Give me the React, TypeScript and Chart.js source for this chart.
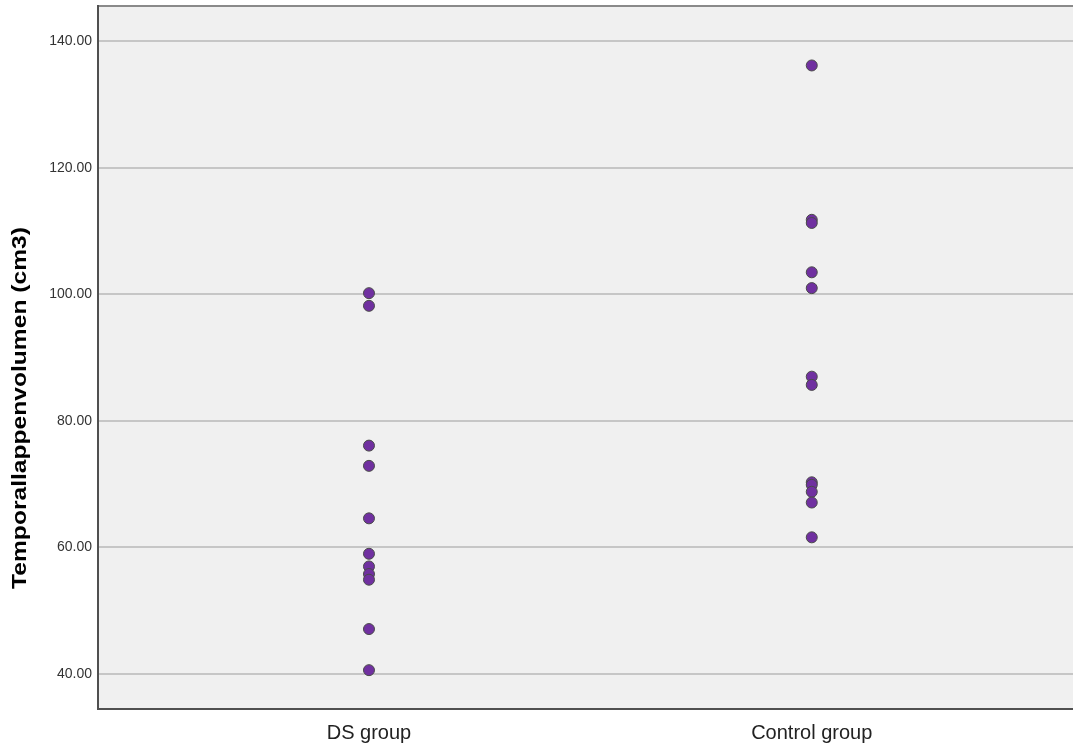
import React, { useEffect, useRef } from "react";
import { Chart, registerables } from "chart.js";

Chart.register(...registerables);

// Group names shown on the x axis; each group sits at its index position.
const groups = ["DS group", "Control group"];

// Temporal lobe volume (cm3) per subject.
const dsValues = [100.2, 98.2, 76.1, 72.9, 64.6, 59.0, 57.0, 55.8, 54.9, 47.1, 40.6];
const controlValues = [136.2, 111.8, 111.3, 103.5, 101.0, 87.0, 85.7, 70.3, 69.9, 68.8, 67.1, 61.6];

const yTicks = [40, 60, 80, 100, 120, 140];
const yTitle = "Temporallappenvolumen (cm3)";

const FONT = "'Liberation Sans', Arial, sans-serif";

// Plot background, frame lines and the tall rotated y-axis title.
const plotFrame = {
  id: "plotFrame",
  beforeDraw(chart: any) {
    const { ctx, chartArea: a } = chart;
    ctx.save();
    ctx.fillStyle = "#f0f0f0";
    ctx.fillRect(a.left, a.top, a.right - a.left, a.bottom - a.top);
    ctx.restore();
  },
  afterDraw(chart: any) {
    const { ctx, chartArea: a } = chart;
    ctx.save();
    ctx.lineWidth = 2;
    ctx.strokeStyle = "#8a8a8a";
    ctx.beginPath();
    ctx.moveTo(a.left, a.top);
    ctx.lineTo(a.right, a.top);
    ctx.stroke();
    ctx.strokeStyle = "#505050";
    ctx.beginPath();
    ctx.moveTo(a.left, a.top - 1);
    ctx.lineTo(a.left, a.bottom);
    ctx.lineTo(a.right, a.bottom);
    ctx.stroke();

    ctx.translate(20, 408);
    ctx.rotate(-Math.PI / 2);
    ctx.scale(1.23, 1);
    ctx.font = `bold 20px ${FONT}`;
    ctx.fillStyle = "#000";
    ctx.textAlign = "center";
    ctx.textBaseline = "middle";
    ctx.fillText(yTitle, 0, 0);
    ctx.restore();
  },
};

const noScalePadding = (axis: any) => {
  axis.paddingTop = 0;
  axis.paddingBottom = 0;
  axis.paddingLeft = 0;
  axis.paddingRight = 0;
};

export default function App() {
  const ref = useRef<HTMLCanvasElement | null>(null);

  useEffect(() => {
    if (!ref.current) return;
    const toPoints = (vals: number[], idx: number) => vals.map((v) => ({ x: idx, y: v }));
    const pointStyle = {
      backgroundColor: "#7030a0",
      borderColor: "#4a4a4a",
      borderWidth: 1,
      pointRadius: 5.5,
      pointHoverRadius: 5.5,
    };
    const chart = new Chart(ref.current, {
      type: "scatter",
      data: {
        datasets: [
          { label: groups[0], data: toPoints(dsValues, 0), ...pointStyle },
          { label: groups[1], data: toPoints(controlValues, 1), ...pointStyle },
        ],
      },
      options: {
        animation: false,
        responsive: false,
        layout: { padding: { top: 6, right: 0, left: 0, bottom: 0 }, autoPadding: false },
        plugins: { legend: { display: false }, tooltip: { enabled: false } },
        scales: {
          x: {
            type: "linear",
            min: -0.612,
            max: 1.59,
            afterBuildTicks: (axis: any) => {
              axis.ticks = groups.map((_, i) => ({ value: i }));
            },
            afterFit: (axis: any) => {
              axis.height = 42;
              noScalePadding(axis);
            },
            ticks: {
              callback: (v: any) => groups[Number(v)] ?? "",
              font: { family: FONT, size: 20 },
              color: "#222",
              padding: 12,
              maxRotation: 0,
              autoSkip: false,
            },
            grid: { display: false, drawTicks: false },
            border: { display: false },
          },
          y: {
            type: "linear",
            min: 34.46,
            max: 145.6,
            afterBuildTicks: (axis: any) => {
              axis.ticks = yTicks.map((v) => ({ value: v }));
            },
            afterFit: (axis: any) => {
              axis.width = 98;
              noScalePadding(axis);
            },
            ticks: {
              callback: (v: any) => Number(v).toFixed(2),
              font: { family: FONT, size: 14 },
              color: "#333",
              padding: 6,
            },
            grid: { color: "#c6c6c6", lineWidth: 2, drawTicks: false },
            border: { display: false },
          },
        },
      },
      plugins: [plotFrame],
    } as any);
    return () => chart.destroy();
  }, []);

  return (
    <div style={{ position: "fixed", left: 0, top: 0, width: 1073, height: 751, background: "#fff" }}>
      <canvas ref={ref} width={1073} height={751} />
    </div>
  );
}
